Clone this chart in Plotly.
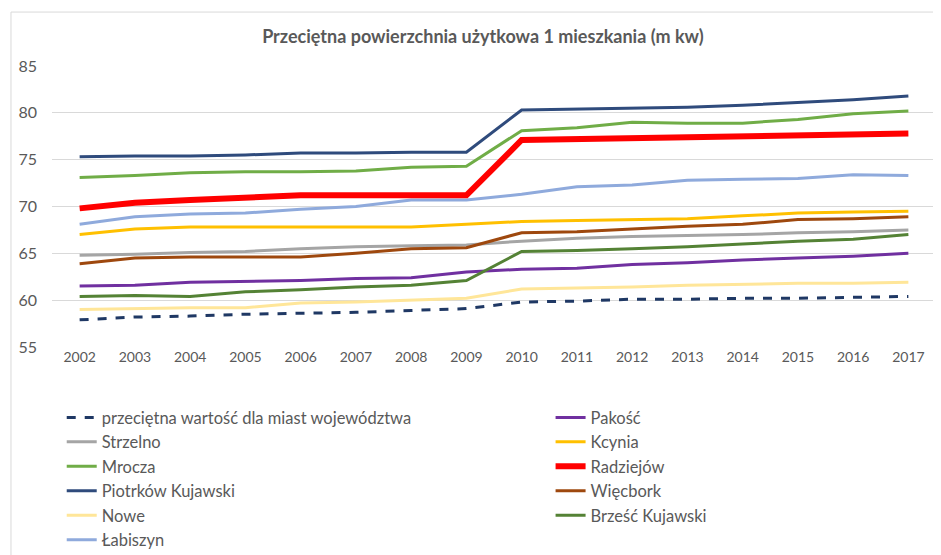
import plotly.graph_objects as go

# Data
years = [str(y) for y in range(2002, 2018)]

srednia = [57.9, 58.2, 58.3, 58.5, 58.6, 58.7, 58.9, 59.1, 59.8, 59.9, 60.1, 60.1, 60.2, 60.2, 60.3, 60.4]
pakosc = [61.5, 61.6, 61.9, 62.0, 62.1, 62.3, 62.4, 63.0, 63.3, 63.4, 63.8, 64.0, 64.3, 64.5, 64.7, 65.0]
strzelno = [64.8, 64.9, 65.1, 65.2, 65.5, 65.7, 65.8, 65.9, 66.3, 66.6, 66.8, 66.9, 67.0, 67.2, 67.3, 67.5]
kcynia = [67.0, 67.6, 67.8, 67.8, 67.8, 67.8, 67.8, 68.1, 68.4, 68.5, 68.6, 68.7, 69.0, 69.3, 69.4, 69.5]
mrocza = [73.1, 73.3, 73.6, 73.7, 73.7, 73.8, 74.2, 74.3, 78.1, 78.4, 79.0, 78.9, 78.9, 79.3, 79.9, 80.2]
radziejow = [69.8, 70.4, 70.7, 71.0, 71.2, 71.2, 71.2, 71.2, 77.1, 77.2, 77.3, 77.3, 77.5, 77.5, 77.7, 77.8]
piotrkow = [75.3, 75.4, 75.4, 75.5, 75.7, 75.7, 75.8, 75.8, 80.3, 80.4, 80.5, 80.6, 80.8, 81.1, 81.4, 81.8]
wiecbork = [63.9, 64.5, 64.6, 64.6, 64.6, 65.0, 65.5, 65.6, 67.2, 67.3, 67.6, 67.9, 68.1, 68.6, 68.7, 68.9]
nowe = [59.0, 59.1, 59.2, 59.2, 59.7, 59.8, 60.0, 60.2, 61.2, 61.3, 61.4, 61.6, 61.7, 61.8, 61.8, 61.9]
brzesc = [60.4, 60.5, 60.4, 60.9, 61.1, 61.4, 61.6, 62.1, 65.2, 65.3, 65.5, 65.7, 66.0, 66.3, 66.5, 67.0]
labiszyn = [68.1, 68.9, 69.2, 69.3, 69.7, 70.0, 70.7, 70.7, 71.3, 72.1, 72.3, 72.8, 72.9, 73.0, 73.4, 73.3]

# (name, values, colour, width, dash, legend column)
series = [
    ("przeciętna wartość dla miast województwa", srednia, "#1F3864", 3, "dash", "legend"),
    ("Strzelno", strzelno, "#A5A5A5", 3, "solid", "legend"),
    ("Mrocza", mrocza, "#70AD47", 3, "solid", "legend"),
    ("Piotrków Kujawski", piotrkow, "#2F4B7C", 3, "solid", "legend"),
    ("Nowe", nowe, "#FFE699", 3, "solid", "legend"),
    ("Łabiszyn", labiszyn, "#8FAADC", 3, "solid", "legend"),
    ("Pakość", pakosc, "#7030A0", 3, "solid", "legend2"),
    ("Kcynia", kcynia, "#FFC000", 3, "solid", "legend2"),
    ("Radziejów", radziejow, "#FF0000", 6, "solid", "legend2"),
    ("Więcbork", wiecbork, "#9E480E", 3, "solid", "legend2"),
    ("Brześć Kujawski", brzesc, "#548235", 3, "solid", "legend2"),
]

fig = go.Figure()
for name, vals, color, width, dash, leg in series:
    fig.add_trace(go.Scatter(x=years, y=vals, mode="lines", name=name, legend=leg,
                             line=dict(color=color, width=width, dash=dash)))

font = "Lato, Open Sans, sans-serif"
legend_style = dict(orientation="v", yref="container", y=0.283, yanchor="top",
                    bgcolor="rgba(0,0,0,0)",
                    font=dict(family=font, size=16.5, color="#595959"),
                    itemwidth=30, tracegroupgap=0)

# the page body adds an 8px margin, so the figure is 8px smaller than the window
fig.update_layout(
    width=933, height=547,
    margin=dict(l=44, r=5, t=58, b=208, autoexpand=False),
    plot_bgcolor="white", paper_bgcolor="white",
    title=dict(text="<b>Przeciętna powierzchnia użytkowa 1 mieszkania (m kw)</b>",
               x=0.509, xanchor="center", y=0.947, yanchor="middle",
               font=dict(family=font, size=18, color="#595959")),
    legend=dict(x=0.011, **legend_style),
    legend2=dict(x=0.564, **legend_style),
    # thin frame around the chart, as in the spreadsheet export
    shapes=[dict(type="rect", xref="paper", yref="paper",
                 x0=-0.0464, x1=1.2, y0=-1.2, y1=1.192,
                 line=dict(color="#D9D9D9", width=1), fillcolor="rgba(0,0,0,0)")],
)
fig.update_xaxes(type="category", range=[-0.5, 15.5], showgrid=False, showline=False,
                 ticks="", automargin=False,
                 tickfont=dict(family=font, size=14, color="#595959"))
fig.update_yaxes(range=[55, 85], dtick=5, showgrid=True, gridcolor="#D9D9D9", gridwidth=1,
                 zeroline=False, showline=False, ticks="", automargin=False,
                 ticklabelstandoff=14,
                 tickfont=dict(family=font, size=16, color="#595959"))

fig.write_html("out.html")
